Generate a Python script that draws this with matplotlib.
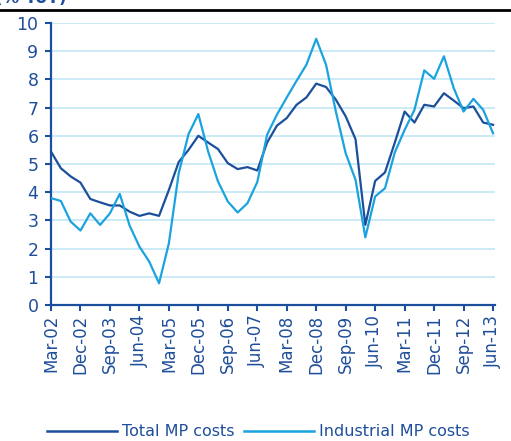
import matplotlib
matplotlib.use('Agg')
import matplotlib.pyplot as plt
from matplotlib.lines import Line2D

# quarterly, Mar-02 .. Jun-13
total_mp = [5.44, 4.85, 4.56, 4.34, 3.76, 3.64, 3.53, 3.53, 3.31, 3.16,
            3.25, 3.16, 4.08, 5.07, 5.50, 6.00, 5.76, 5.53, 5.03, 4.82,
            4.89, 4.77, 5.76, 6.36, 6.63, 7.10, 7.36, 7.85, 7.73, 7.28,
            6.69, 5.88, 2.84, 4.40, 4.70, 5.76, 6.86, 6.47, 7.10, 7.04,
            7.51, 7.25, 6.98, 7.04, 6.47, 6.39]
industrial_mp = [3.79, 3.69, 2.96, 2.64, 3.25, 2.84, 3.25, 3.94, 2.82, 2.07,
                 1.54, 0.77, 2.19, 4.67, 6.06, 6.77, 5.44, 4.38, 3.67, 3.28,
                 3.61, 4.36, 6.04, 6.75, 7.36, 7.95, 8.52, 9.44, 8.52, 6.86,
                 5.38, 4.44, 2.40, 3.85, 4.14, 5.41, 6.21, 6.92, 8.32, 8.02,
                 8.82, 7.69, 6.86, 7.31, 6.92, 6.09]
tick_labels = ['Mar-02', 'Dec-02', 'Sep-03', 'Jun-04', 'Mar-05', 'Dec-05',
               'Sep-06', 'Jun-07', 'Mar-08', 'Dec-08', 'Sep-09', 'Jun-10',
               'Mar-11', 'Dec-11', 'Sep-12', 'Jun-13']

dark = '#1b4f9b'
light = '#1aa3de'
txt = '#1f4e9a'

fig = plt.figure(figsize=(5.11, 4.41), dpi=100)
ax = fig.add_axes([51 / 511, 136 / 441, 444 / 511, 282 / 441])

x = list(range(len(total_mp)))
ax.plot(x, total_mp, color=dark, lw=1.6, label='Total MP costs', zorder=3)
ax.plot(x, industrial_mp, color=light, lw=1.6, label='Industrial MP costs', zorder=3)

ax.set_xlim(0, 45.2)
ax.set_ylim(0, 10)
ax.set_yticks(range(0, 11))
ax.set_xticks(range(0, len(total_mp), 3))
ax.set_xticklabels(tick_labels, rotation=90)
ax.grid(axis='y', color='#c3e8f6', lw=1.2, zorder=0)
ax.set_axisbelow(True)

for s in ['top', 'right']:
    ax.spines[s].set_visible(False)
for s in ['left', 'bottom']:
    ax.spines[s].set_color(dark)
    ax.spines[s].set_linewidth(1.6)
ax.tick_params(axis='both', direction='out', length=4, width=1.5, color=dark,
               labelcolor=txt)
ax.tick_params(axis='y', labelsize=12.5, pad=5)
ax.tick_params(axis='x', labelsize=12, pad=3)

handles = [Line2D([], [], color=dark, lw=1.8), Line2D([], [], color=light, lw=1.8)]
leg = fig.legend(handles, ['Total MP costs', 'Industrial MP costs'], loc='center',
                 bbox_to_anchor=(0.505, 1 - 432 / 441), ncol=2, frameon=False,
                 fontsize=11.5, handlelength=4.4, columnspacing=0.6,
                 handletextpad=0.3)
for t in leg.get_texts():
    t.set_color(txt)

# rule and clipped unit header at the top
fig.add_artist(Line2D([0, 1], [1 - 10 / 441] * 2, color='black', lw=2,
                      transform=fig.transFigure))
fig.text(-0.01, 1 - 3 / 441, '(% YoY)', color=txt, fontsize=12,
         fontweight='bold', va='baseline')

fig.savefig('out.png', dpi=100)
